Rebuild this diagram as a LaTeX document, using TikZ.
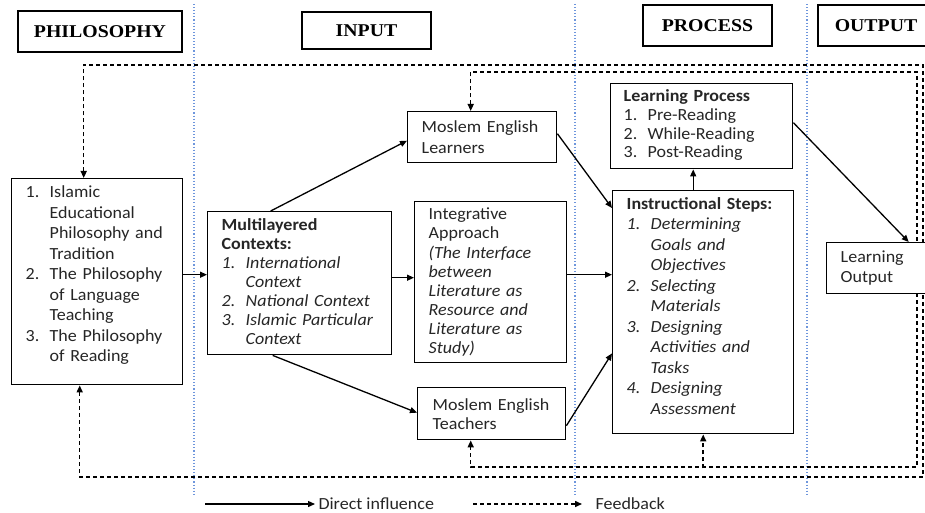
\documentclass[tikz,border=0pt]{standalone}
\usepackage{fontspec}
\usepackage{array}
\setmainfont{Carlito}[FakeStretch=1.06]
\newfontfamily\headfont{Liberation Serif}[FakeStretch=1.1]
\usetikzlibrary{arrows.meta}
\definecolor{sepblue}{RGB}{110,150,220}

\begin{document}
\begin{tikzpicture}[x=1pt,y=-1pt,>={Triangle[length=7pt,width=6pt]},
	box/.style={draw, line width=1.4pt, fill=white, anchor=north west, align=left, inner ysep=0pt, text=black!85, font=\fontsize{17pt}{20.5pt}\selectfont},
	head/.style={draw, line width=1.4pt, font=\headfont\bfseries\fontsize{18pt}{20pt}\selectfont},
	arr/.style={line width=1.3pt, ->},
	fb/.style={line width=1.5pt, dash pattern=on 4pt off 3pt}]
	\useasboundingbox (0,0) rectangle (925,513);
	\clip (0,0) rectangle (925,513);
	\foreach \x in {194,575,807}
		\draw[sepblue, dotted, line width=1.1pt] (\x,4) -- (\x,495);

	\node[head, minimum width=164pt, minimum height=41pt] (hphil) at (100,31.5) {PHILOSOPHY};
	\node[head, minimum width=129pt, minimum height=37pt] (hinput) at (366.5,30.5) {INPUT};
	\node[head, minimum width=129pt, minimum height=41pt] (hproc) at (707.5,25.5) {PROCESS};
	\node[head, minimum width=116pt, minimum height=41pt] (hout) at (876,25.5) {OUTPUT};

	\node[box, minimum width=171pt, minimum height=206pt, text width=143pt, inner xsep=14pt] (phil) at (11,178) {%
		\begin{tabular}{@{}p{24pt}@{}l@{}}
			1. & Islamic\\
			   & Educational\\
			   & Philosophy and\\
			   & Tradition\\
			2. & The Philosophy\\
			   & of Language\\
			   & Teaching\\
			3. & The Philosophy\\
			   & of Reading\\[12pt]
		\end{tabular}};
	\node[box, minimum width=184pt, minimum height=143pt, text width=156pt, inner xsep=14pt, font=\fontsize{17pt}{19pt}\selectfont] (multi) at (207,211) {%
		\begin{tabular}{@{}>{\itshape}p{24pt}@{}>{\itshape}l@{}}
			\multicolumn{2}{@{}l@{}}{\bfseries Multilayered}\\
			\multicolumn{2}{@{}l@{}}{\bfseries Contexts:}\\
			1. & International\\
			   & Context\\
			2. & National Context\\
			3. & Islamic Particular\\
			   & Context
		\end{tabular}};
	\node[box, minimum width=152pt, minimum height=161pt, text width=124pt, inner xsep=14pt, font=\fontsize{17pt}{19.1pt}\selectfont] (integ) at (414,201)
		{Integrative\\Approach\\\textit{(The Interface}\\\textit{between}\\\textit{Literature as}\\\textit{Resource and}\\\textit{Literature as}\\\textit{Study)}};
	\node[box, minimum width=149pt, minimum height=51pt, text width=121pt, inner xsep=14pt, font=\fontsize{17pt}{21pt}\selectfont] (learn) at (407,111) {Moslem English\\Learners};
	\node[box, minimum width=148pt, minimum height=52pt, text width=118pt, inner xsep=15pt, font=\fontsize{17pt}{19pt}\selectfont] (teach) at (417,387) {Moslem English\\Teachers};
	\node[box, minimum width=182pt, minimum height=85pt, text width=156pt, inner xsep=13pt, font=\fontsize{17pt}{18.7pt}\selectfont] (lp) at (610,83) {%
		\begin{tabular}{@{}p{24pt}@{}l@{}}
			\multicolumn{2}{@{}l@{}}{\bfseries Learning Process}\\
			1. & Pre-Reading\\
			2. & While-Reading\\
			3. & Post-Reading
		\end{tabular}};
	\node[box, minimum width=181pt, minimum height=243pt, text width=153pt, inner xsep=14pt] (is) at (612,190) {%
		\begin{tabular}{@{}>{\itshape}p{24pt}@{}>{\itshape}l@{}}
			\multicolumn{2}{@{}l@{}}{\bfseries Instructional Steps:}\\
			1. & Determining\\
			   & Goals and\\
			   & Objectives\\
			2. & Selecting\\
			   & Materials\\
			3. & Designing\\
			   & Activities and\\
			   & Tasks\\
			4. & Designing\\
			   & Assessment\\[9pt]
		\end{tabular}};

	\draw[fb,<->] ([xshift=-13.5pt]phil.north) -- ++(0,-113) -| (923,477) -| ([xshift=-17.5pt]phil.south);
	\draw[fb,<->] ([xshift=-11.5pt]learn.north) -- ++(0,-39) -| (917,467) -| ([xshift=-21pt]teach.south);
	\draw[fb,->] ([yshift=-34pt]is.south) -- (is.south);

	\node[box, minimum width=104pt, minimum height=51pt, text width=76pt, inner xsep=14pt, font=\fontsize{17pt}{20pt}\selectfont] (lo) at (826,242) {Learning\\Output};

	\draw[arr] ([yshift=7pt]phil.east) -- ([yshift=8.5pt]multi.west);
	\draw[arr] ([xshift=-29pt]multi.north) -- ([yshift=-3.5pt]learn.west);
	\draw[arr] ([xshift=-27pt]multi.south) -- ([yshift=1pt]teach.west);
	\draw[arr] ([yshift=5.5pt]multi.east) -- ([yshift=4.5pt]integ.west);
	\draw[arr] ([yshift=3.5pt]learn.east) -- ([yshift=-18pt]is.north west);
	\draw[arr] ([yshift=7.5pt]integ.east) -- ([yshift=37.5pt]is.west);
	\draw[arr] ([yshift=-12pt]teach.east) -- ([yshift=81pt]is.south west);
	\draw[arr] ([xshift=-10pt]is.north) -- ([xshift=-10pt]is.north |- lp.south);
	\draw[arr] ([yshift=3.5pt]lp.east) -- ([xshift=30pt]lo.north);

	\coordinate (ldir0) at (205,504);
	\coordinate (lfb0) at (473,504);
	\node[anchor=west, text=black!85, font=\fontsize{17pt}{20pt}\selectfont] (ldir) at (315,504) {Direct influence};
	\node[anchor=west, text=black!85, font=\fontsize{17pt}{20pt}\selectfont] (lfb) at (592,504) {Feedback};
	\draw[arr] (ldir0) -- (ldir.west);
	\draw[fb,->] (lfb0) -- ([xshift=-10pt]lfb.west);
\end{tikzpicture}
\end{document}
